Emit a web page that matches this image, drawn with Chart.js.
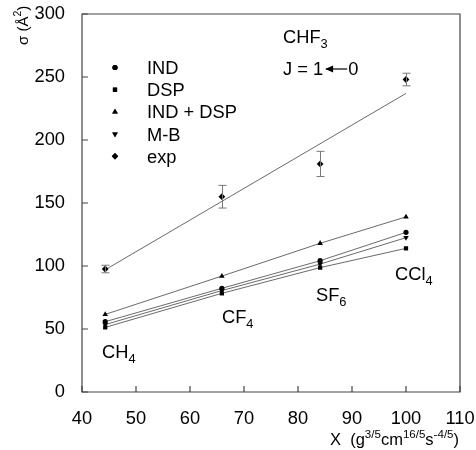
<!DOCTYPE html>
<html>
<head>
<meta charset="utf-8">
<script src="https://cdn.jsdelivr.net/npm/chart.js@4/dist/chart.umd.min.js"></script>
<style>
  body { margin: 0; background: #fff; }
</style>
</head>
<body>
<canvas id="myChart" width="476" height="450"></canvas>
<script>
// molecules: CH4, CF4, SF6, CCl4
const molecules = ["CH4", "CF4", "SF6", "CCl4"];
const xValues = [44.3, 65.9, 84.1, 100];
const indVals = [55.8, 82.3, 104.2, 126.7];
const dspVals = [51.3, 78.3, 98.7, 114];
const indDspVals = [61.6, 92, 118, 139];
const mbVals = [53.5, 80.5, 101.5, 122.5];
const expVals = [97.6, 155, 181, 248];
const expErr = [3, 9, 10, 5];
// straight fit through the exp points
const expFitX = [44.3, 100];
const expFitY = [97, 237];
const xTicks = [40, 50, 60, 70, 80, 90, 100, 110];
const yTicks = [0, 50, 100, 150, 200, 250, 300];

const FONT = "'Liberation Sans', Arial, sans-serif";
const lineCol = "#444";

function pts(xs, ys) { return xs.map((x, i) => ({x: x, y: ys[i]})); }

function series(label, ys, style, rot, r) {
  return {
    label: label, data: pts(xValues, ys), showLine: true,
    borderColor: lineCol, borderWidth: 0.8,
    pointStyle: style, rotation: rot || 0, pointRadius: r || 2.6,
    pointBackgroundColor: "#000", pointBorderColor: "#000", pointBorderWidth: 0
  };
}

// draws a run of text with sub/superscript parts: [text, "n"|"sub"|"sup"]
function richText(ctx, x, y, parts, size) {
  ctx.textBaseline = "alphabetic";
  ctx.textAlign = "left";
  parts.forEach(p => {
    let s = size, dy = 0;
    if (p[1] === "sub") { s = size * 0.7; dy = size * 0.3; }
    if (p[1] === "sup") { s = size * 0.7; dy = -size * 0.45; }
    ctx.font = s + "px " + FONT;
    ctx.fillText(p[0], x, y + dy);
    x += ctx.measureText(p[0]).width;
  });
  return x;
}

const extras = {
  id: "extras",
  afterDraw(chart) {
    const ctx = chart.ctx, xs = chart.scales.x, ys = chart.scales.y;
    const L = xs.left, R = xs.right, T = ys.top, B = ys.bottom;
    ctx.save();
    // frame and inner ticks
    ctx.strokeStyle = "#444";
    ctx.lineWidth = 1.2;
    ctx.beginPath();
    ctx.rect(L, T, R - L, B - T);
    ctx.stroke();
    ctx.beginPath();
    xTicks.forEach(v => {
      const px = xs.getPixelForValue(v);
      ctx.moveTo(px, B); ctx.lineTo(px, B - 6);
    });
    yTicks.forEach(v => {
      const py = ys.getPixelForValue(v);
      ctx.moveTo(L, py); ctx.lineTo(L + 6, py);
    });
    ctx.stroke();
    // error bars on exp
    ctx.strokeStyle = "#777";
    ctx.lineWidth = 1;
    ctx.beginPath();
    xValues.forEach((x, i) => {
      const px = Math.round(xs.getPixelForValue(x)) + 0.5;
      const top = ys.getPixelForValue(expVals[i] + expErr[i]);
      const bot = ys.getPixelForValue(expVals[i] - expErr[i]);
      ctx.moveTo(px, top); ctx.lineTo(px, bot);
      ctx.moveTo(px - 4, top); ctx.lineTo(px + 4, top);
      ctx.moveTo(px - 4, bot); ctx.lineTo(px + 4, bot);
    });
    ctx.stroke();

    ctx.fillStyle = "#000";
    // legend
    const leg = [["IND", "circle", 0, 2.6], ["DSP", "rect", 0, 3], ["IND + DSP", "triangle", 0, 3.2],
                 ["M-B", "triangle", 180, 3.2], ["exp", "rectRot", 0, 3.2]];
    leg.forEach((l, i) => {
      const y = 67.5 + i * 22.2;
      Chart.helpers.drawPoint(ctx, {pointStyle: l[1], rotation: l[2], radius: l[3], borderWidth: 0}, 115, y);
      ctx.fill();
      richText(ctx, 147, y + 6.5, [[l[0], "n"]], 18.3);
    });
    // annotations
    richText(ctx, 283, 43, [["CHF", "n"], ["3", "sub"]], 18.3);
    let ex = richText(ctx, 283, 75, [["J = 1", "n"]], 18.3);
    ctx.strokeStyle = "#000"; ctx.lineWidth = 1.2;
    ctx.beginPath(); ctx.moveTo(ex + 3, 69); ctx.lineTo(ex + 24, 69); ctx.stroke();
    ctx.beginPath(); ctx.moveTo(ex + 2, 69); ctx.lineTo(ex + 10, 65.5); ctx.lineTo(ex + 10, 72.5); ctx.closePath(); ctx.fill();
    richText(ctx, ex + 25, 75, [["0", "n"]], 18.3);
    richText(ctx, 102, 358, [["CH", "n"], ["4", "sub"]], 18.3);
    richText(ctx, 222, 323, [["CF", "n"], ["4", "sub"]], 18.3);
    richText(ctx, 316, 301, [["SF", "n"], ["6", "sub"]], 18.3);
    richText(ctx, 395, 280, [["CCl", "n"], ["4", "sub"]], 18.3);
    // axis titles
    richText(ctx, 330, 445, [["X  (g", "n"], ["3/5", "sup"], ["cm", "n"], ["16/5", "sup"], ["s", "n"], ["-4/5", "sup"], [")", "n"]], 16.5);
    ctx.save();
    ctx.translate(28, 45);
    ctx.rotate(-Math.PI / 2);
    richText(ctx, 0, 0, [["σ (Å", "n"], ["2", "sup"], [")", "n"]], 15);
    ctx.restore();
    ctx.restore();
  }
};

new Chart(document.getElementById("myChart").getContext("2d"), {
  type: "scatter",
  data: {
    datasets: [
      series("IND", indVals, "circle"),
      series("DSP", dspVals, "rect", 0, 3),
      series("IND + DSP", indDspVals, "triangle", 0, 3.2),
      series("M-B", mbVals, "triangle", 180, 3.2),
      {
        label: "exp", data: pts(xValues, expVals), showLine: false,
        pointStyle: "rectRot", pointRadius: 3.4, pointBackgroundColor: "#000", pointBorderWidth: 0
      },
      {
        label: "exp fit", data: pts(expFitX, expFitY), showLine: true,
        borderColor: lineCol, borderWidth: 0.8, pointRadius: 0
      }
    ]
  },
  options: {
    responsive: false,
    animation: false,
    layout: { padding: { top: 14, right: 16, left: 0, bottom: 0 } },
    plugins: { legend: { display: false }, tooltip: { enabled: false } },
    scales: {
      x: {
        type: "linear", min: 40, max: 110,
        afterFit: s => { s.height = 58; s.paddingLeft = 0; s.paddingRight = 0; },
        afterBuildTicks: s => { s.ticks = xTicks.map(v => ({value: v})); },
        grid: { display: false },
        border: { display: false },
        ticks: { color: "#000", font: { size: 18.3, family: FONT }, padding: 8, maxRotation: 0 }
      },
      y: {
        min: 0, max: 300,
        afterFit: s => { s.width = 82; s.paddingTop = 0; s.paddingBottom = 0; },
        afterBuildTicks: s => { s.ticks = yTicks.map(v => ({value: v})); },
        grid: { display: false },
        border: { display: false },
        ticks: { color: "#000", font: { size: 18.3, family: FONT }, padding: 9 }
      }
    }
  },
  plugins: [extras]
});
</script>
</body>
</html>
